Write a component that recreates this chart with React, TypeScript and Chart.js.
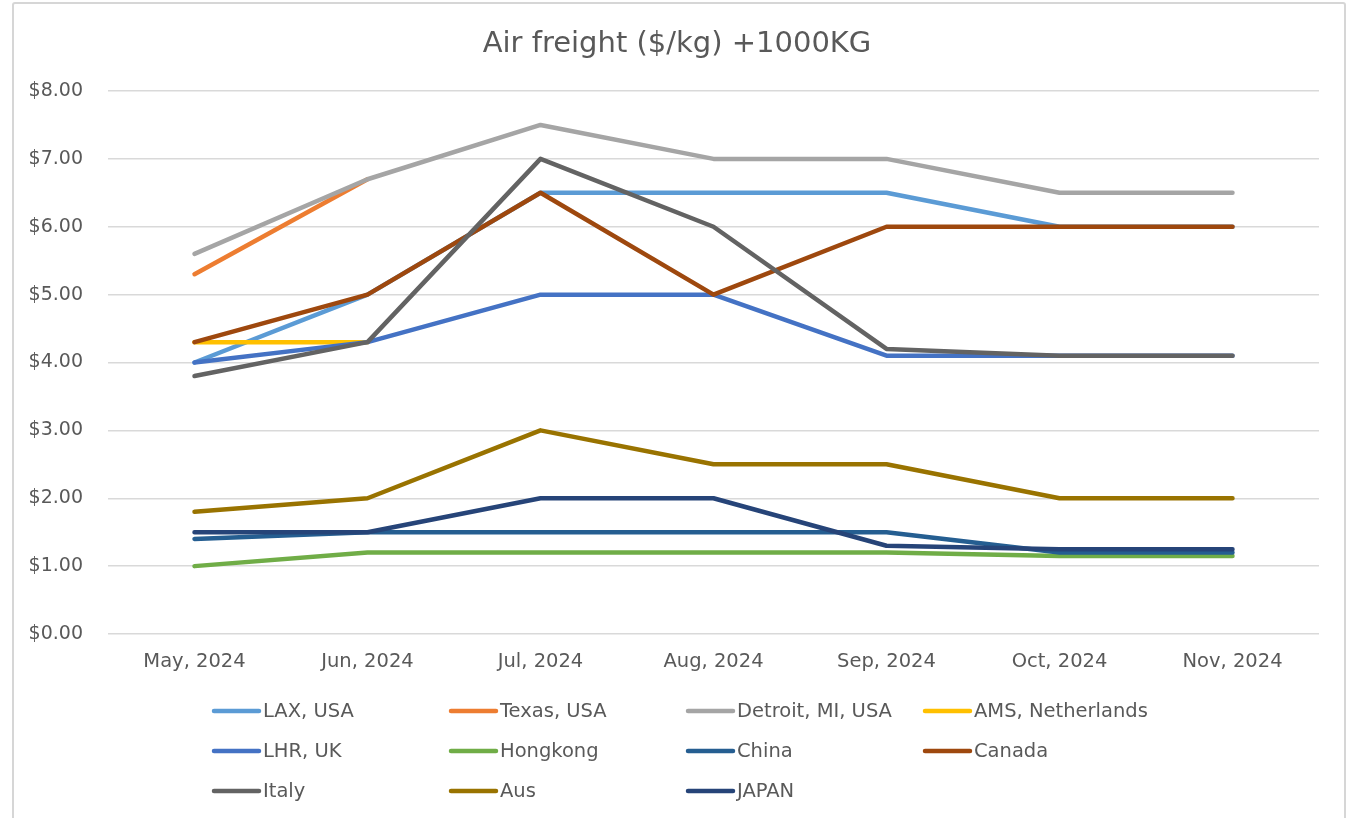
import React, { useEffect, useRef } from "react";
import { Chart, registerables } from "chart.js";

Chart.register(...registerables);

const months = ["May, 2024", "Jun, 2024", "Jul, 2024", "Aug, 2024", "Sep, 2024", "Oct, 2024", "Nov, 2024"];

const laxUsa = [4.0, 5.0, 6.5, 6.5, 6.5, 6.0, 6.0];
const texasUsa = [5.3, 6.7, null, null, null, null, null];
const detroitUsa = [5.6, 6.7, 7.5, 7.0, 7.0, 6.5, 6.5];
const amsNetherlands = [4.3, 4.3, null, null, null, null, null];
const lhrUk = [4.0, 4.3, 5.0, 5.0, 4.1, 4.1, 4.1];
const hongkong = [1.0, 1.2, 1.2, 1.2, 1.2, 1.15, 1.15];
const china = [1.4, 1.5, 1.5, 1.5, 1.5, 1.2, 1.2];
const canada = [4.3, 5.0, 6.5, 5.0, 6.0, 6.0, 6.0];
const italy = [3.8, 4.3, 7.0, 6.0, 4.2, 4.1, 4.1];
const aus = [1.8, 2.0, 3.0, 2.5, 2.5, 2.0, 2.0];
const japan = [1.5, 1.5, 2.0, 2.0, 1.3, 1.25, 1.25];

const seriesNames = [
  "LAX, USA", "Texas, USA", "Detroit, MI, USA", "AMS, Netherlands",
  "LHR, UK", "Hongkong", "China", "Canada",
  "Italy", "Aus", "JAPAN",
];
const seriesValues = [laxUsa, texasUsa, detroitUsa, amsNetherlands, lhrUk, hongkong, china, canada, italy, aus, japan];
const seriesColors = [
  "#5B9BD5", "#ED7D31", "#A5A5A5", "#FFC000",
  "#4472C4", "#70AD47", "#255E91", "#9E480E",
  "#636363", "#997300", "#264478",
];

const yTicks = [0, 1, 2, 3, 4, 5, 6, 7, 8];
const chartTitle = "Air freight ($/kg) +1000KG";

const FONT = "'DejaVu Sans', sans-serif";
const TEXT = "#595959";

// Legend grid: four equal columns, three rows below the axis
const legendLeft = 212;
const legendColWidth = 237;
const legendRows = [711, 751, 791];

const decorPlugin = {
  id: "decor",
  afterDraw(chart: any) {
    const ctx = chart.ctx as CanvasRenderingContext2D;
    ctx.save();
    // title, centred on the whole card
    ctx.fillStyle = TEXT;
    ctx.font = `29px ${FONT}`;
    ctx.textAlign = "center";
    ctx.textBaseline = "alphabetic";
    ctx.fillText(chartTitle, 677, 52);

    // legend
    ctx.font = `19.5px ${FONT}`;
    ctx.textAlign = "left";
    ctx.textBaseline = "middle";
    chart.data.datasets.forEach((ds: any, i: number) => {
      const col = i % 4;
      const row = Math.floor(i / 4);
      const x = legendLeft + col * legendColWidth;
      const y = legendRows[row];
      ctx.strokeStyle = ds.borderColor;
      ctx.lineWidth = 4.5;
      ctx.lineCap = "round";
      ctx.beginPath();
      ctx.moveTo(x + 2, y);
      ctx.lineTo(x + 47, y);
      ctx.stroke();
      ctx.fillStyle = TEXT;
      ctx.fillText(ds.label, x + 51, y + 1);
    });
    ctx.restore();
  },
};

export default function App() {
  const canvasRef = useRef<HTMLCanvasElement | null>(null);

  useEffect(() => {
    const canvas = canvasRef.current;
    if (!canvas) return;
    const chart = new Chart(canvas, {
      type: "line",
      data: {
        labels: months,
        datasets: seriesNames.map((name, i) => ({
          label: name,
          data: seriesValues[i],
          borderColor: seriesColors[i],
          backgroundColor: seriesColors[i],
          borderWidth: 4.5,
          borderCapStyle: "round",
          borderJoinStyle: "round",
          pointRadius: 0,
          pointHoverRadius: 0,
          tension: 0,
          spanGaps: false,
          order: -i,
        })),
      },
      options: {
        animation: false,
        responsive: false,
        maintainAspectRatio: false,
        layout: { padding: { top: 91, left: 0, right: 37, bottom: 0 } },
        plugins: {
          legend: { display: false },
          title: { display: false },
          tooltip: { enabled: false },
        },
        scales: {
          x: {
            offset: true,
            grid: { display: false, drawTicks: false },
            border: { display: false },
            ticks: { color: TEXT, font: { family: FONT, size: 19.5 }, padding: 16, maxRotation: 0, autoSkip: false },
            afterFit(scale: any) {
              scale.height = 184;
            },
          },
          y: {
            min: 0,
            max: 8,
            afterBuildTicks(scale: any) {
              scale.ticks = yTicks.map((v) => ({ value: v }));
            },
            grid: { color: "#D9D9D9", lineWidth: 1.5, drawTicks: false },
            border: { display: false },
            ticks: {
              color: TEXT,
              font: { family: FONT, size: 19 },
              padding: 25,
              callback: (v: any) => "$" + Number(v).toFixed(2),
            },
            afterFit(scale: any) {
              scale.width = 108;
            },
          },
        },
      },
      plugins: [decorPlugin],
    });
    return () => chart.destroy();
  }, []);

  return (
    <div style={{ position: "fixed", left: 0, top: 0, width: 1356, height: 818, background: "#fff", overflow: "hidden" }}>
      <div
        style={{
          position: "absolute",
          left: 12,
          top: 2,
          width: 1330,
          height: 840,
          border: "2px solid #D6D6D6",
          borderRadius: 3,
        }}
      />
      <canvas ref={canvasRef} width={1356} height={818} style={{ position: "absolute", left: 0, top: 0 }} />
    </div>
  );
}
